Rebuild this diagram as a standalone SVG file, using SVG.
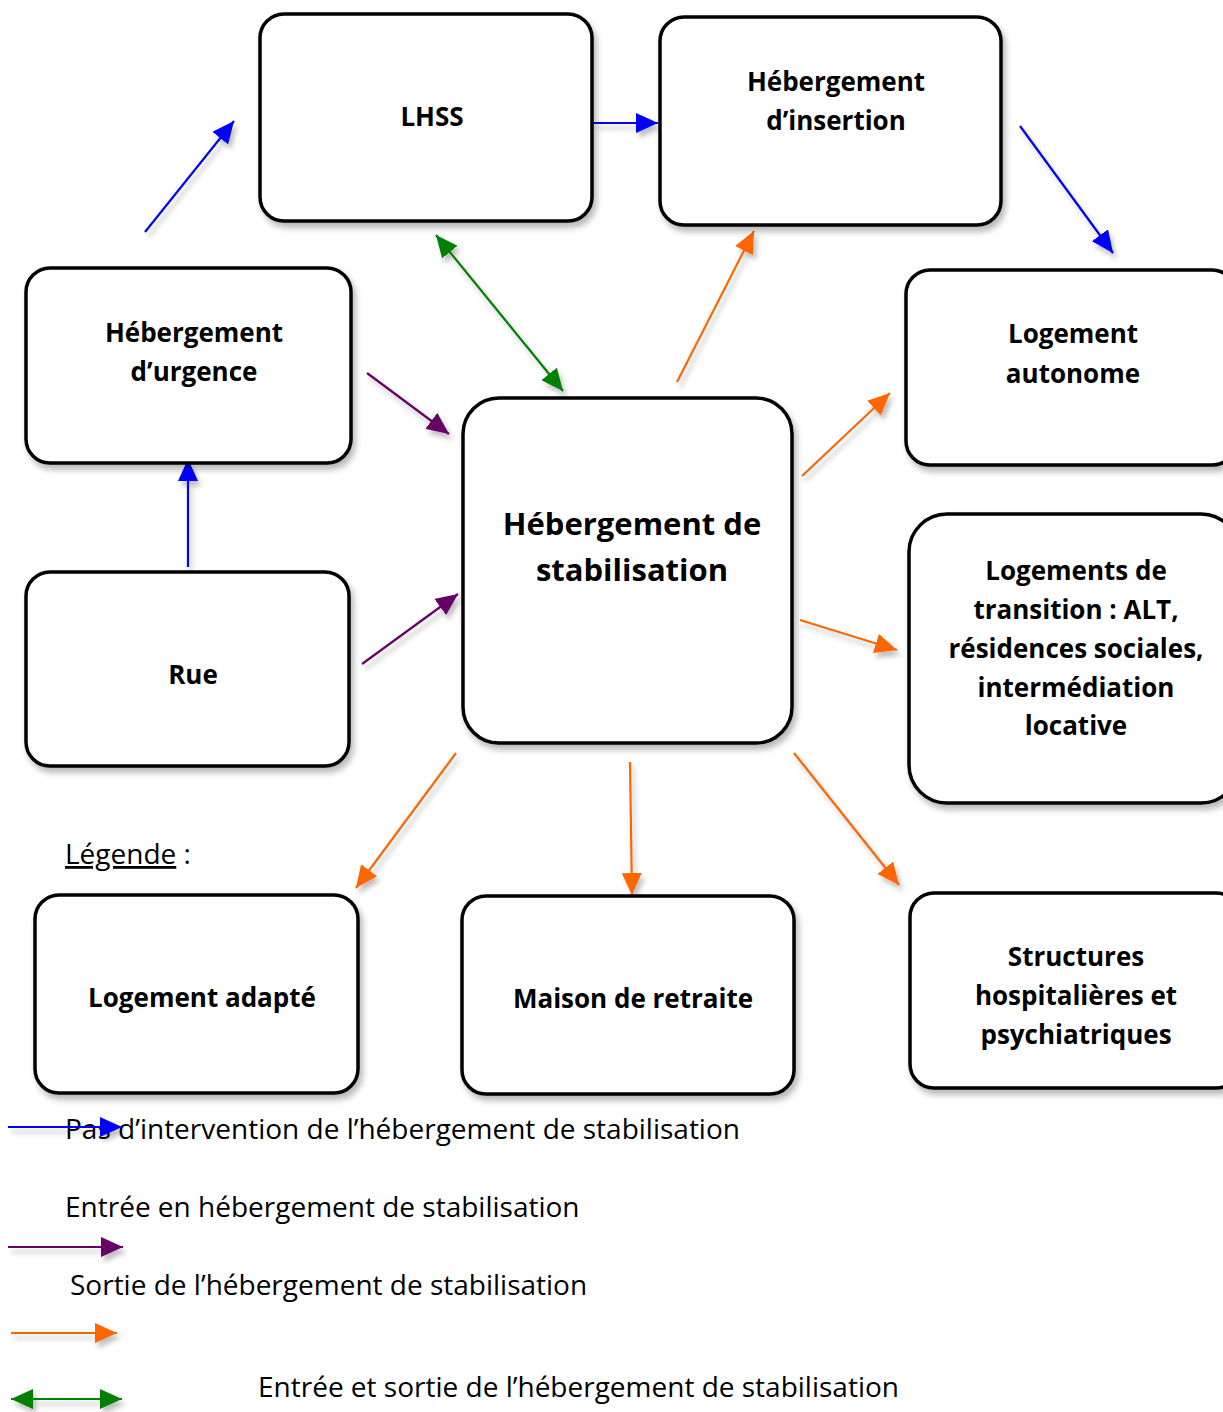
<svg xmlns="http://www.w3.org/2000/svg" width="1223" height="1412" viewBox="0 0 1223 1412">
<defs>
<filter id="sh" x="-20%" y="-20%" width="140%" height="140%">
<feDropShadow dx="3" dy="5" stdDeviation="3" flood-color="#000" flood-opacity="0.28"/>
</filter>
<filter id="shc" filterUnits="userSpaceOnUse" x="0" y="0" width="1223" height="1412">
<feDropShadow dx="3" dy="5" stdDeviation="2.5" flood-color="#000" flood-opacity="0.25"/>
</filter>
<marker id="hb" viewBox="0 0 22 20" refX="22" refY="10" markerWidth="22" markerHeight="20" markerUnits="userSpaceOnUse" orient="auto-start-reverse"><path d="M0,0 L22,10 L0,20 Z" fill="#0000ff"/></marker>
<marker id="hp" viewBox="0 0 22 20" refX="22" refY="10" markerWidth="22" markerHeight="20" markerUnits="userSpaceOnUse" orient="auto-start-reverse"><path d="M0,0 L22,10 L0,20 Z" fill="#660066"/></marker>
<marker id="ho" viewBox="0 0 22 20" refX="22" refY="10" markerWidth="22" markerHeight="20" markerUnits="userSpaceOnUse" orient="auto-start-reverse"><path d="M0,0 L22,10 L0,20 Z" fill="#ff6600"/></marker>
<marker id="hg" viewBox="0 0 22 20" refX="22" refY="10" markerWidth="22" markerHeight="20" markerUnits="userSpaceOnUse" orient="auto-start-reverse"><path d="M0,0 L22,10 L0,20 Z" fill="#008000"/></marker>
</defs>
<style>
.box{fill:#fff;stroke:#000;stroke-width:3.5;filter:url(#sh)}
.lbl{font-family:"Open Sans","Noto Sans",sans-serif;font-weight:bold;font-size:26px;fill:#000;text-anchor:middle}
.big{font-size:31px}
.leg{font-family:"Open Sans","Noto Sans",sans-serif;font-size:28px;fill:#000}
.c{fill:none;stroke-width:2.2;filter:url(#shc)}
.b{stroke:#0000ff;marker-end:url(#hb)}
.p{stroke:#660066;marker-end:url(#hp)}
.o{stroke:#ff6600;marker-end:url(#ho)}
.g{stroke:#008000;marker-end:url(#hg);marker-start:url(#hg)}
</style>
<rect width="1223" height="1412" fill="#fff"/>

<g id="connectors">
<line class="c b" x1="145" y1="232" x2="234" y2="121"/>
<line class="c b" x1="593" y1="123" x2="658" y2="123"/>
<line class="c b" x1="1020" y1="126" x2="1113" y2="253"/>
<line class="c b" x1="188" y1="567" x2="188" y2="459"/>
<line class="c g" x1="436" y1="235" x2="563" y2="391"/>
<line class="c p" x1="367" y1="373" x2="449" y2="434"/>
<line class="c p" x1="362" y1="664" x2="458" y2="594"/>
<line class="c o" x1="677" y1="382" x2="754" y2="231"/>
<line class="c o" x1="802" y1="476" x2="890" y2="393"/>
<line class="c o" x1="800" y1="620" x2="897" y2="650"/>
<line class="c o" x1="456" y1="753" x2="356" y2="888"/>
<line class="c o" x1="630" y1="762" x2="632" y2="895"/>
<line class="c o" x1="794" y1="753" x2="899" y2="885"/>
</g>

<g id="lhss">
<rect class="box" x="260" y="14" width="332" height="207" rx="24"/>
<text class="lbl" x="432" y="126">LHSS</text>
</g>
<g id="insertion">
<rect class="box" x="660" y="17" width="341" height="208" rx="24"/>
<text class="lbl" x="836" y="91">Hébergement</text>
<text class="lbl" x="836" y="130">d’insertion</text>
</g>
<g id="urgence">
<rect class="box" x="26" y="268" width="325" height="195" rx="24"/>
<text class="lbl" x="194" y="342">Hébergement</text>
<text class="lbl" x="194" y="381">d’urgence</text>
</g>
<g id="autonome">
<rect class="box" x="906" y="270" width="330" height="195" rx="24"/>
<text class="lbl" x="1073" y="343">Logement</text>
<text class="lbl" x="1073" y="383">autonome</text>
</g>
<g id="stabilisation">
<rect class="box" x="463" y="398" width="329" height="345" rx="36"/>
<text class="lbl big" x="632" y="535">Hébergement de</text>
<text class="lbl big" x="632" y="581">stabilisation</text>
</g>
<g id="rue">
<rect class="box" x="26" y="572" width="323" height="194" rx="24"/>
<text class="lbl" x="193" y="684">Rue</text>
</g>
<g id="transition">
<rect class="box" x="909" y="514" width="330" height="289" rx="38"/>
<text class="lbl" x="1076" y="580">Logements de</text>
<text class="lbl" x="1076" y="619">transition : ALT,</text>
<text class="lbl" x="1076" y="658">résidences sociales,</text>
<text class="lbl" x="1076" y="697">intermédiation</text>
<text class="lbl" x="1076" y="735">locative</text>
</g>
<g id="adapte">
<rect class="box" x="35" y="895" width="323" height="198" rx="24"/>
<text class="lbl" x="202" y="1007">Logement adapté</text>
</g>
<g id="retraite">
<rect class="box" x="462" y="896" width="332" height="198" rx="24"/>
<text class="lbl" x="633" y="1008">Maison de retraite</text>
</g>
<g id="structures">
<rect class="box" x="910" y="893" width="330" height="195" rx="24"/>
<text class="lbl" x="1076" y="966">Structures</text>
<text class="lbl" x="1076" y="1005">hospitalières et</text>
<text class="lbl" x="1076" y="1044">psychiatriques</text>
</g>

<g id="legend">
<text class="leg" x="65" y="864"><tspan text-decoration="underline">Légende</tspan> :</text>
<text class="leg" x="65" y="1139">Pas d’intervention de l’hébergement de stabilisation</text>
<line class="c b" x1="8" y1="1127" x2="122" y2="1127"/>
<text class="leg" x="65" y="1217">Entrée en hébergement de stabilisation</text>
<line class="c p" x1="8" y1="1247" x2="123" y2="1247"/>
<text class="leg" x="70" y="1295">Sortie de l’hébergement de stabilisation</text>
<line class="c o" x1="11" y1="1333" x2="117" y2="1333"/>
<line class="c g" x1="11" y1="1399" x2="122" y2="1399"/>
<text class="leg" x="258" y="1397">Entrée et sortie de l’hébergement de stabilisation</text>
</g>
</svg>
